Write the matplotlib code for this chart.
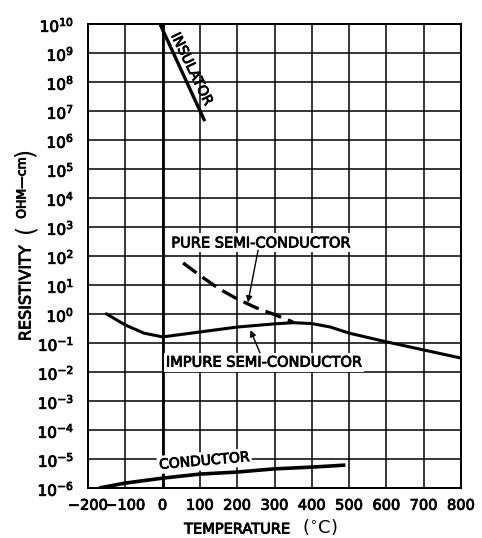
import numpy as np
import matplotlib
matplotlib.use("Agg")
import matplotlib.pyplot as plt
import matplotlib.patheffects as pe

# ---- data (temperature in °C, log10 resistivity in ohm-cm)
insulator_t = [-7, 113]
insulator_log = [10.0, 6.65]

pure_t = [55, 100, 150, 200, 250, 300, 350]
pure_log = [1.76, 1.33, 0.88, 0.52, 0.22, -0.02, -0.28]

impure_t = [-150, -100, -50, 0, 100, 200, 300, 350, 400, 450, 500, 600, 700, 800]
impure_log = [0.0, -0.38, -0.66, -0.79, -0.62, -0.45, -0.34, -0.30, -0.33, -0.45, -0.66, -0.96, -1.24, -1.52]

conductor_t = [-170, -100, 0, 100, 200, 300, 400, 490]
conductor_log = [-6.0, -5.83, -5.66, -5.52, -5.45, -5.34, -5.28, -5.21]

x_ticks = [-200, -100, 0, 100, 200, 300, 400, 500, 600, 700, 800]
x_labels = ["\u2212200", "\u2212100", "0", "100", "200", "300", "400", "500", "600", "700", "800"]
y_exps = list(range(-6, 11))

plt.rcParams['font.family'] = ['DejaVu Sans']

thick = [pe.Stroke(linewidth=0.6, foreground='black'), pe.Normal()]

fig = plt.figure(figsize=(4.82, 5.38), dpi=100)
ax = fig.add_axes([88/482, 1-488/538, (461-88)/482, (488-24)/538])
ax.set_yscale('log')
ax.set_xlim(-200, 800)
ax.set_ylim(1e-6, 1e10)

# grid drawn from the tick positions
for xv in x_ticks:
    ax.axvline(xv, color='black', lw=1.1, zorder=1)
for e in y_exps:
    ax.axhline(10.0**e, color='black', lw=1.1, zorder=1)
ax.axvline(0, color='black', lw=2.0, zorder=1.2)

ax.set_xticks(x_ticks)
ax.set_xticklabels(x_labels, fontsize=10.5)
ax.set_yticks([10.0**e for e in y_exps])
ax.set_yticklabels([r"$10^{%d}$" % e for e in y_exps], fontsize=11)
ax.yaxis.set_minor_locator(matplotlib.ticker.NullLocator())
ax.tick_params(length=0)
ax.tick_params(axis='x', pad=7)
ax.tick_params(axis='y', pad=10)
for lab in ax.get_xticklabels() + ax.get_yticklabels():
    lab.set_path_effects(thick)

for s in ax.spines.values():
    s.set_linewidth(1.4)

def pw(a):
    return 10.0 ** np.asarray(a)

ax.plot(insulator_t, pw(insulator_log), color='black', lw=2.4, solid_capstyle='butt', zorder=3)
ax.plot(pure_t, pw(pure_log), color='black', lw=2.4, dashes=(5, 2.2), zorder=3)
ax.plot(impure_t, pw(impure_log), color='black', lw=2.2, zorder=3)
ax.plot(conductor_t, pw(conductor_log), color='black', lw=2.6, solid_capstyle='butt', zorder=3)

box = dict(facecolor='white', edgecolor='none', pad=1.5)
tkw = dict(fontsize=10.5, ha='center', va='center', color='black', zorder=2, path_effects=thick)
ax.text(264, pw(2.45), "PURE SEMI-CONDUCTOR", bbox=box, **tkw)
ax.text(272, pw(-1.66), "IMPURE SEMI-CONDUCTOR", bbox=box, **tkw)
ax.text(112, pw(-5.07), "CONDUCTOR", rotation=5, bbox=box, **dict(tkw, fontsize=10))
ax.text(78, pw(8.45), "INSULATOR", rotation=-64, rotation_mode='anchor', **dict(tkw, fontsize=10))

# arrows pointing to the curves
pa = 228
ax.annotate("", xy=(pa, pw(np.interp(pa, pure_t, pure_log))), xytext=(256, pw(2.2)),
            arrowprops=dict(arrowstyle='-|>', color='black', lw=1.0, mutation_scale=9, shrinkA=0, shrinkB=1),
            zorder=4)
ia = 234
ax.annotate("", xy=(ia, pw(np.interp(ia, impure_t, impure_log) - 0.1)), xytext=(261, pw(-1.34)),
            arrowprops=dict(arrowstyle='-|>', color='black', lw=1.0, mutation_scale=9, shrinkA=0, shrinkB=1),
            zorder=4)

# axis labels
fig.text(26/482, 1-293/538, "RESISTIVITY", rotation=90, fontsize=11.5, ha='center', va='center', path_effects=thick)
fig.text(25/482, 1-228/538, "(", rotation=90, fontsize=17, ha='center', va='center')
fig.text(22/482, 1-188/538, "OHM\u2014cm", rotation=90, fontsize=9, ha='center', va='center', path_effects=thick)
fig.text(25/482, 1-152/538, ")", rotation=90, fontsize=17, ha='center', va='center')

fig.text(237/482, 1-529/538, "TEMPERATURE", fontsize=10.5, ha='center', va='center', path_effects=thick)
fig.text(320/482, 1-527/538, r"($^{\circ}$C)", fontsize=13, ha='center', va='center')

fig.savefig("out.png", dpi=100)
